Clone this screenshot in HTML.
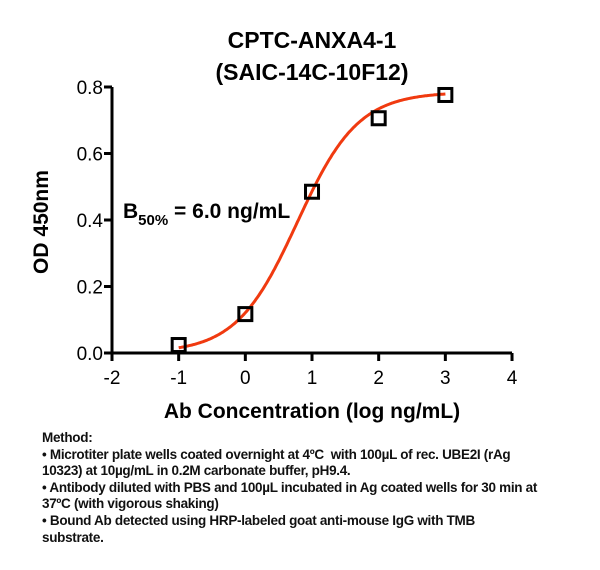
<!DOCTYPE html>
<html><head><meta charset="utf-8"><style>
body{margin:0;background:#fff;width:600px;height:570px;overflow:hidden;font-family:"Liberation Sans",Arial,sans-serif}
#method{position:absolute;left:42px;top:430px;font-size:13.5px;font-weight:bold;line-height:16.6px;letter-spacing:-0.3px;color:#111;white-space:nowrap}
</style></head><body>
<svg id="chart" width="600" height="430" style="position:absolute;left:0;top:0" font-family="Liberation Sans, Arial, sans-serif">
<text x="312" y="48" text-anchor="middle" font-size="23" font-weight="bold">CPTC-ANXA4-1</text>
<text x="312" y="80" text-anchor="middle" font-size="23" font-weight="bold">(SAIC-14C-10F12)</text>
<text transform="translate(48,222) rotate(-90)" text-anchor="middle" font-size="21" font-weight="bold">OD 450nm</text>
<text x="312" y="418" text-anchor="middle" font-size="21" font-weight="bold">Ab Concentration (log ng/mL)</text>
<text x="123" y="218" font-size="21" font-weight="bold">B<tspan font-size="15" dy="7">50%</tspan><tspan dy="-7"> = 6.0 ng/mL</tspan></text>
<g id="axes"></g><g id="marks"></g>
</svg>
<div id="method">Method:<br>• Microtiter plate wells coated overnight at 4ºC &nbsp;with 100µL of rec. UBE2I (rAg<br>10323) at 10µg/mL in 0.2M carbonate buffer, pH9.4.<br>• Antibody diluted with PBS and 100µL incubated in Ag coated wells for 30 min at<br>37ºC (with vigorous shaking)<br>• Bound Ab detected using HRP-labeled goat anti-mouse IgG with TMB<br>substrate.</div>
<script>
const xTicks=[-2,-1,0,1,2,3,4];
const yTicks=[0.0,0.2,0.4,0.6,0.8];
const xVals=[-1,0,1,2,3];
const yVals=[0.024,0.117,0.485,0.706,0.776];
const fitParams=[0.0,0.785,0.778,0.95]; // bottom, top, logEC50, hill
const NS="http://www.w3.org/2000/svg";
const sx=v=>112+(v+2)*66.67;
const sy=v=>353-v*332.5;
function mk(t,a,p){const e=document.createElementNS(NS,t);for(const k in a)e.setAttribute(k,a[k]);p.appendChild(e);return e;}
const ax=document.getElementById('axes'),mk2=document.getElementById('marks');
const xl=mk('line',{x1:sx(-2),x2:sx(4),y1:sy(0),y2:sy(0),stroke:'#000','stroke-width':3},ax);

const yl=mk('line',{x1:sx(-2),x2:sx(-2),y1:sy(0)+1.5,y2:sy(0.8),stroke:'#000','stroke-width':3},ax);

xTicks.forEach(t=>{mk('line',{x1:sx(t),x2:sx(t),y1:sy(0),y2:sy(0)+8,stroke:'#000','stroke-width':3},ax);
const l=mk('text',{x:sx(t),y:sy(0)+31,'text-anchor':'middle','font-size':19},ax);l.textContent=t;

});
yTicks.forEach(t=>{mk('line',{x1:sx(-2)-8,x2:sx(-2),y1:sy(t),y2:sy(t),stroke:'#000','stroke-width':3},ax);
const l=mk('text',{x:sx(-2)-9,y:sy(t)+7,'text-anchor':'end','font-size':19},ax);l.textContent=t.toFixed(1);

});
const [b,tp,ec,h]=fitParams;let d='';
for(let i=0;i<=200;i++){const x=xVals[0]+i*(xVals[xVals.length-1]-xVals[0])/200;const y=b+(tp-b)/(1+Math.pow(10,(ec-x)*h));d+=(i?'L':'M')+sx(x).toFixed(1)+','+sy(y).toFixed(1);}
const c=mk('path',{d:d,fill:'none',stroke:'#f03a10','stroke-width':3},mk2);

xVals.forEach((x,i)=>{const r=mk('rect',{x:sx(x)-6.5,y:sy(yVals[i])-6.5,width:13,height:13,fill:'none',stroke:'#000','stroke-width':3},mk2);

});
</script>
</body></html>
